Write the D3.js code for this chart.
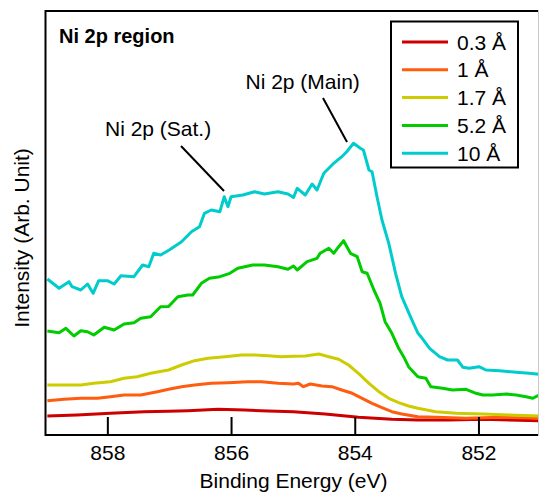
<!DOCTYPE html>
<html>
<head>
<meta charset="utf-8">
<script src="https://cdn.jsdelivr.net/npm/d3@7"></script>
<style>
  body { margin: 0; background: #fff; }
  text { font-family: "Liberation Sans", Arial, sans-serif; }
</style>
</head>
<body>
<script>
// Series labels (film thickness)
const labels = ["0.3 Å", "1 Å", "1.7 Å", "5.2 Å", "10 Å"];

// Tick labels on binding energy axis
const xTicks = [858, 856, 854, 852];

// Spectra: [binding energy (eV), intensity (arb.)]
const s03 = [[858.97, 19], [858.49, 20], [857.95, 21.7], [857.41, 23.3], [857.01, 23.7], [856.70, 24.3],
  [856.21, 25.7], [855.78, 25], [855.40, 24], [854.99, 23.3], [854.48, 21], [853.94, 17.7], [853.40, 15.7],
  [852.98, 15], [852.47, 15], [851.93, 15.7], [851.02, 14.3]];

const s1 = [[858.97, 34.3], [858.70, 35.7], [858.43, 36.7], [858.16, 36.7], [857.95, 38.3], [857.73, 40],
  [857.46, 40], [857.19, 43.3], [857.01, 45.7], [856.80, 48.3], [856.59, 50], [856.32, 51.7], [856.05, 52.3],
  [855.73, 53.3], [855.51, 53.3], [855.24, 51.7], [854.99, 51], [854.91, 51.7], [854.83, 48.3], [854.72, 51],
  [854.53, 49], [854.37, 48.3], [854.21, 45], [854.04, 41.7], [853.88, 36.7], [853.72, 31.7], [853.56, 27.3],
  [853.40, 23.3], [853.24, 21], [852.98, 18.3], [852.69, 17.7], [852.20, 16.7], [851.66, 17.7], [851.02, 16.7]];

const s17 = [[858.97, 50], [858.70, 50], [858.43, 50], [858.22, 51.7], [857.95, 53.3], [857.73, 56.7],
  [857.52, 58.3], [857.30, 61.7], [857.01, 65], [856.80, 70], [856.59, 74.3], [856.37, 76.7], [856.10, 78.3],
  [855.83, 80], [855.62, 80], [855.40, 79.3], [855.19, 78.3], [854.99, 78.7], [854.80, 79], [854.58, 81],
  [854.42, 78.3], [854.26, 75.7], [854.10, 70], [853.94, 61.7], [853.77, 51.7], [853.61, 43.3], [853.45, 36.7],
  [853.29, 32.3], [853.13, 29], [852.98, 26.7], [852.69, 23.3], [852.36, 21.7], [851.93, 21], [851.50, 20],
  [851.02, 19]];

const s52 = [[858.97, 104], [858.78, 102.3], [858.67, 106.7], [858.54, 99], [858.43, 104.3], [858.32, 103.3],
  [858.22, 100], [858.05, 107.7], [857.89, 105], [857.73, 111], [857.57, 112.3], [857.46, 116.7], [857.30, 118.3],
  [857.14, 128.3], [857.01, 128.5], [856.86, 138.3], [856.70, 140], [856.62, 140], [856.48, 151.7], [856.35, 156.7],
  [856.18, 158.3], [856.02, 161.7], [855.89, 166.7], [855.65, 170], [855.46, 170], [855.24, 168.3], [855.08, 165.7],
  [854.99, 169], [854.93, 165], [854.77, 173.3], [854.61, 176.7], [854.56, 181.7], [854.42, 186.7], [854.34, 181.7],
  [854.26, 188.3], [854.18, 194.3], [854.07, 181.7], [853.96, 178.3], [853.88, 163.3], [853.80, 161.7],
  [853.69, 145], [853.59, 131.7], [853.51, 113.3], [853.40, 101.7], [853.29, 86.7], [853.21, 78.3], [853.13, 68.3],
  [852.98, 58.3], [852.85, 56.7], [852.77, 48.3], [852.58, 46.7], [852.42, 45], [852.20, 45.7], [852.04, 41.7],
  [851.93, 40], [851.77, 40], [851.55, 41], [851.39, 40], [851.23, 38.3], [851.12, 36.7], [851.02, 40]];

const s10 = [[858.97, 156], [858.78, 146.7], [858.62, 153.3], [858.57, 148.3], [858.43, 145], [858.32, 151],
  [858.23, 141.7], [858.14, 154.3], [858.00, 154.3], [857.89, 151], [857.78, 159.3], [857.57, 158.3], [857.43, 170],
  [857.33, 168.3], [857.25, 181.7], [857.14, 180], [857.00, 185], [856.80, 193.3], [856.64, 203.3], [856.51, 208.3],
  [856.43, 221.7], [856.32, 225], [856.18, 223.3], [856.11, 238.3], [856.05, 228.3], [856.00, 238.3], [855.81, 240],
  [855.62, 243.3], [855.46, 241], [855.24, 243.3], [855.08, 241], [854.99, 237.5], [854.93, 246.7], [854.80, 240],
  [854.69, 251], [854.61, 245], [854.50, 261.7], [854.34, 271.7], [854.21, 278.3], [854.13, 283.3], [854.02, 291.7],
  [853.91, 286.7], [853.86, 285], [853.77, 265], [853.72, 263.3], [853.64, 238.3], [853.56, 215], [853.45, 191.7],
  [853.34, 161.7], [853.24, 138.3], [853.10, 118.3], [852.98, 102], [852.93, 98.3], [852.79, 86.7], [852.63, 78.3],
  [852.50, 75], [852.34, 75], [852.25, 67.7], [852.15, 66.7], [851.99, 68.3], [851.88, 65], [851.66, 64.3],
  [851.39, 62.7], [851.18, 61.7], [851.02, 60.7]];

const series = [s03, s1, s17, s52, s10];
const colors = ["#cc0000", "#ff5c0f", "#cccc00", "#00cc00", "#00cccc"];

// SVG dimension variables
const width = 539;
const height = 492;
const plotLeft = 45.5, plotRight = 538, plotTop = 11, plotBottom = 435;

const svg = d3.select("body")
  .append("svg")
  .attr("width", width)
  .attr("height", height);

// Scales (binding energy runs right to left)
const x = d3.scaleLinear()
  .domain([859, 851])
  .range([45.5, 540.3]);

const y = d3.scaleLinear()
  .domain([0, 424])
  .range([plotBottom, plotTop]);

// Clip curves to plot area
svg.append("clipPath")
  .attr("id", "plotClip")
  .append("rect")
  .attr("x", plotLeft + 1)
  .attr("y", plotTop)
  .attr("width", width - plotLeft)
  .attr("height", plotBottom - plotTop);

const line = d3.line()
  .x((d) => x(d[0]))
  .y((d) => y(d[1]));

svg.append("g")
  .attr("clip-path", "url(#plotClip)")
  .selectAll(".spectrum")
  .data(series)
  .enter()
  .append("path")
  .attr("class", "spectrum")
  .attr("d", line)
  .style("fill", "none")
  .style("stroke", (d, i) => colors[i])
  .style("stroke-width", 3)
  .style("stroke-linejoin", "round");

// Frame
svg.append("path")
  .attr("d", `M${plotRight},${plotTop}H${plotLeft}V${plotBottom}H${plotRight}`)
  .style("fill", "none")
  .style("stroke", "#000")
  .style("stroke-width", 2);

svg.append("line")
  .attr("x1", plotRight + 0.5).attr("x2", plotRight + 0.5)
  .attr("y1", plotTop - 1).attr("y2", plotBottom + 1)
  .style("stroke", "#c8c8c8")
  .style("stroke-width", 1);

// Bottom axis with inward ticks
const xAxis = d3.axisBottom(x)
  .tickValues(xTicks)
  .tickSize(-18)
  .tickPadding(24);

const axis = svg.append("g")
  .attr("transform", `translate(0, ${plotBottom})`)
  .call(xAxis);

axis.select(".domain").remove();

axis.selectAll("line")
  .style("stroke", "#000")
  .style("stroke-width", 2);

axis.selectAll("text")
  .attr("y", 0)
  .attr("dy", 24.5)
  .style("font-family", "'Liberation Sans', Arial, sans-serif")
  .style("font-size", "21px")
  .style("fill", "#000");

// Axis titles
svg.append("text")
  .attr("x", 293.5)
  .attr("y", 488)
  .attr("text-anchor", "middle")
  .style("font-size", "21px")
  .text("Binding Energy (eV)");

svg.append("text")
  .attr("transform", "translate(28.5, 238) rotate(-90)")
  .attr("text-anchor", "middle")
  .style("font-size", "21px")
  .text("Intensity (Arb. Unit)");

// Panel title
svg.append("text")
  .attr("x", 59)
  .attr("y", 43)
  .style("font-size", "20px")
  .style("font-weight", "bold")
  .text("Ni 2p region");

// Peak annotations
svg.append("text")
  .attr("x", 105)
  .attr("y", 135.5)
  .style("font-size", "21px")
  .text("Ni 2p (Sat.)");

svg.append("line")
  .attr("x1", 181).attr("y1", 146)
  .attr("x2", 224).attr("y2", 191)
  .style("stroke", "#000")
  .style("stroke-width", 2);

svg.append("text")
  .attr("x", 245.5)
  .attr("y", 88.5)
  .style("font-size", "21px")
  .text("Ni 2p (Main)");

svg.append("line")
  .attr("x1", 323).attr("y1", 98)
  .attr("x2", 347).attr("y2", 142)
  .style("stroke", "#000")
  .style("stroke-width", 2);

// Legend
const legend = svg.append("g").attr("class", "legend");

legend.append("rect")
  .attr("x", 391)
  .attr("y", 21.5)
  .attr("width", 127)
  .attr("height", 146)
  .style("fill", "#fff")
  .style("stroke", "#000")
  .style("stroke-width", 2);

const rows = legend.selectAll(".row")
  .data(labels)
  .enter()
  .append("g")
  .attr("class", "row")
  .attr("transform", (d, i) => `translate(0, ${42 + i * 27.8})`);

rows.append("line")
  .attr("x1", 402).attr("x2", 448)
  .style("stroke", (d, i) => colors[i])
  .style("stroke-width", 3);

rows.append("text")
  .attr("x", 457)
  .attr("y", 7.5)
  .style("font-size", "21px")
  .text((d) => d);
</script>
</body>
</html>
